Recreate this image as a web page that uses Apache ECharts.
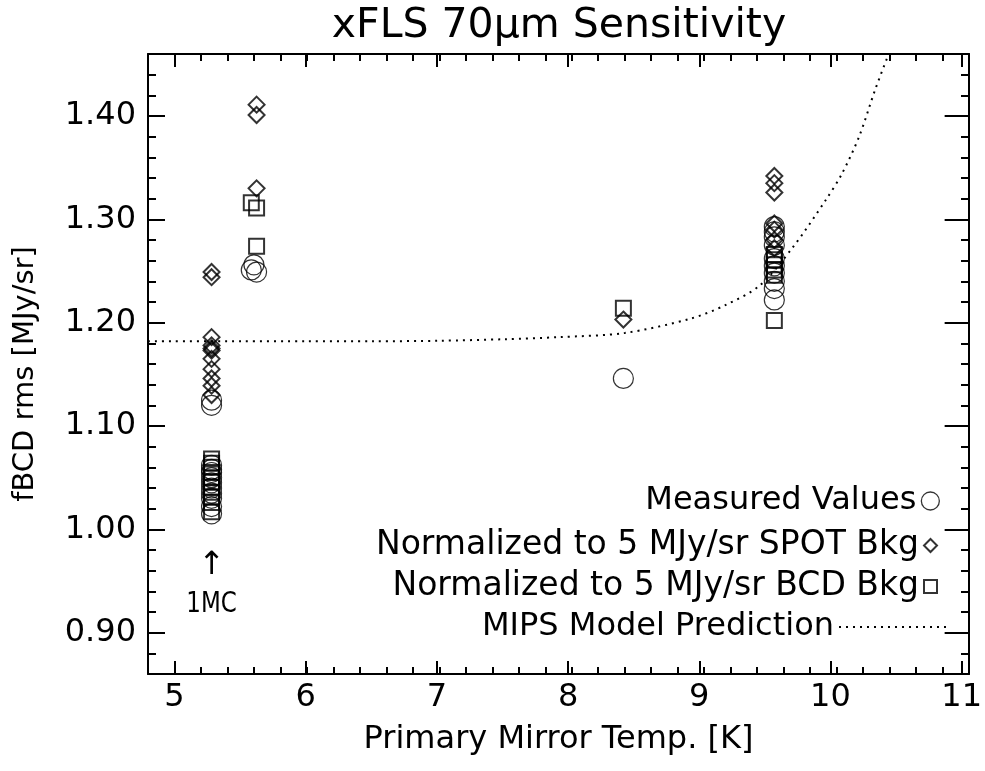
<!DOCTYPE html>
<html><head><meta charset="utf-8">
<script src="https://cdn.jsdelivr.net/npm/echarts@6/dist/echarts.min.js"></script>
<style>html,body{margin:0;padding:0;background:#fff}#c{width:985px;height:771px}</style>
</head><body><div id="c"></div>
<script>
// ---- data ----
const measTemp = [5.28,5.28,5.28,5.28,5.28,5.28,5.28,5.28,5.28,5.28,5.28,5.28,
                  5.60,5.58,5.62, 8.39,
                  9.53,9.53,9.53,9.53,9.53,9.53,9.53,9.53,9.53,9.53];
const measRms  = [1.125,1.120,1.062,1.058,1.055,1.050,1.045,1.040,1.035,1.030,1.022,1.015,
                  1.256,1.251,1.249, 1.146,
                  1.293,1.288,1.283,1.275,1.262,1.255,1.248,1.240,1.233,1.222];
const spotTemp = [5.28,5.28,5.28,5.28,5.28,5.28,5.28,5.28,5.28,5.28,5.28,
                  5.62,5.62,5.62, 8.39,
                  9.53,9.53,9.53,9.53,9.53,9.53,9.53];
const spotRms  = [1.249,1.244,1.186,1.178,1.175,1.173,1.165,1.155,1.146,1.139,1.130,
                  1.411,1.401,1.330, 1.203,
                  1.342,1.335,1.326,1.296,1.290,1.280,1.272];
const bcdTemp  = [5.28,5.28,5.28,5.28,5.28,5.28,5.28,5.28,5.28,5.28,5.28,
                  5.58,5.62,5.62, 8.39,
                  9.53,9.53,9.53,9.53,9.53,9.53];
const bcdRms   = [1.068,1.064,1.060,1.055,1.050,1.046,1.041,1.036,1.031,1.026,1.017,
                  1.316,1.311,1.274, 1.214,
                  1.266,1.261,1.256,1.251,1.246,1.202];
const modelTemp = [4.8,5.5,6.0,6.5,7.0,7.5,7.9,8.4,8.9,9.16,9.42,9.67,9.92,10.04,10.17,10.29,10.39];
const modelRms  = [1.182,1.182,1.182,1.182,1.1825,1.184,1.186,1.190,1.204,1.217,1.236,1.273,1.319,1.344,1.380,1.425,1.459];
const xTickLabels = ['5','6','7','8','9','10','11'];
const yTickLabels = ['0.90','1.00','1.10','1.20','1.30','1.40'];
const seriesNames = ['Measured Values','Normalized to 5 MJy/sr SPOT Bkg','Normalized to 5 MJy/sr BCD Bkg','MIPS Model Prediction'];

// ---- layout ----
const W = 985, H = 771;
const X0 = 4.8, X1 = 11.0, Y0 = 0.86, Y1 = 1.46;
const PL = 148, PR = 969, PT = 54, PB = 674;
const px = x => PL + (x - X0) / (X1 - X0) * (PR - PL);
const py = y => PT + (Y1 - y) / (Y1 - Y0) * (PB - PT);
const xm0 = 5, xm1 = 11, ym0 = 0.9, ym1 = 1.4;
const FONT = 'DejaVu Sans';
const zip = (a, b) => a.map((v, i) => [v, b[i]]);
const black = '#000';
const clear = 'rgba(0,0,0,0)';
const tickLine = {color: black, width: 2};
const legendText = {fontFamily: FONT, fontSize: 32, color: black};

const baseAxis = {type: 'value', splitLine: {show: false}, axisLabel: {show: false}, z: 5};

const chart = echarts.init(document.getElementById('c'));
const option = {
  animation: false,
  backgroundColor: '#fff',
  title: {text: 'xFLS 70\u03bcm Sensitivity', left: 554, textAlign: 'center', top: 1,
          textStyle: {fontFamily: FONT, fontSize: 41, fontWeight: 'normal', color: black}},
  grid: [
    {left: PL, right: W - PR, top: PT, bottom: H - PB},
    {left: px(xm0), right: W - px(xm1), top: py(ym1), bottom: H - py(ym0)}
  ],
  xAxis: [
    Object.assign({}, baseAxis, {gridIndex: 0, min: X0, max: X1, interval: 0.2, position: 'bottom',
      axisLine: {show: true, onZero: false, lineStyle: tickLine}, axisTick: {inside: true, length: 7, lineStyle: tickLine},
      name: 'Primary Mirror Temp. [K]', nameLocation: 'middle', nameGap: 50,
      nameTextStyle: {fontFamily: FONT, fontSize: 32, color: black}}),
    Object.assign({}, baseAxis, {gridIndex: 0, min: X0, max: X1, interval: 0.2, position: 'top',
      axisLine: {show: true, onZero: false, lineStyle: tickLine}, axisTick: {inside: true, length: 7, lineStyle: tickLine}}),
    Object.assign({}, baseAxis, {gridIndex: 1, min: xm0, max: xm1, interval: 1, position: 'bottom', offset: PB - py(ym0),
      axisLine: {show: false, onZero: false}, axisTick: {inside: true, length: 13, lineStyle: tickLine},
      axisLabel: {show: true, margin: 8, fontFamily: FONT, fontSize: 32, color: black,
        formatter: v => xTickLabels[Math.round(v - xm0)]}}),
    Object.assign({}, baseAxis, {gridIndex: 1, min: xm0, max: xm1, interval: 1, position: 'top', offset: py(ym1) - PT,
      axisLine: {show: false, onZero: false}, axisTick: {inside: true, length: 13, lineStyle: tickLine}})
  ],
  yAxis: [
    Object.assign({}, baseAxis, {gridIndex: 0, min: Y0, max: Y1, interval: 0.02, position: 'left',
      axisLine: {show: true, onZero: false, lineStyle: tickLine}, axisTick: {inside: true, length: 8, lineStyle: tickLine},
      name: 'fBCD rms [MJy/sr]', nameLocation: 'middle', nameRotate: 90, nameGap: 108,
      nameTextStyle: {fontFamily: FONT, fontSize: 29, color: black, padding: [0, 20, 0, 0]}}),
    Object.assign({}, baseAxis, {gridIndex: 0, min: Y0, max: Y1, interval: 0.02, position: 'right',
      axisLine: {show: true, onZero: false, lineStyle: tickLine}, axisTick: {inside: true, length: 8, lineStyle: tickLine}}),
    Object.assign({}, baseAxis, {gridIndex: 1, min: ym0, max: ym1, interval: 0.1, position: 'left', offset: px(xm0) - PL,
      axisLine: {show: false, onZero: false}, axisTick: {inside: true, length: 17, lineStyle: tickLine},
      axisLabel: {show: true, margin: 12, fontFamily: FONT, fontSize: 32, color: black,
        formatter: v => yTickLabels[Math.round((v - ym0) * 10)]}}),
    Object.assign({}, baseAxis, {gridIndex: 1, min: ym0, max: ym1, interval: 0.1, position: 'right', offset: 0,
      axisLine: {show: false, onZero: false}, axisTick: {inside: true, length: 17, lineStyle: tickLine}})
  ],
  legend: [
    {data: [{name: seriesNames[0], icon: 'circle', itemStyle: {color: clear, borderColor: black, borderWidth: 1.3}}],
     right: 40, top: 480, align: 'right', itemWidth: 18, itemHeight: 18, selectedMode: false, textStyle: legendText},
    {data: [{name: seriesNames[1], icon: 'diamond', itemStyle: {color: clear, borderColor: black, borderWidth: 2}}],
     right: 42, top: 524, align: 'right', itemWidth: 13, itemHeight: 13, selectedMode: false,
     textStyle: Object.assign({}, legendText, {fontSize: 33})},
    {data: [{name: seriesNames[2], icon: 'rect', itemStyle: {color: clear, borderColor: black, borderWidth: 2}}],
     right: 42, top: 565, align: 'right', itemWidth: 13, itemHeight: 13, selectedMode: false,
     textStyle: Object.assign({}, legendText, {fontSize: 33})},
    {data: [{name: seriesNames[3], itemStyle: {color: clear, borderColor: clear, borderWidth: 0, opacity: 0}}],
     right: 32, top: 606, align: 'right', itemWidth: 108, itemHeight: 14, selectedMode: false, textStyle: legendText}
  ],
  series: [
    {name: seriesNames[0], type: 'scatter', xAxisIndex: 0, yAxisIndex: 0, symbol: 'circle', symbolSize: 20,
     itemStyle: {color: clear, borderColor: black, borderWidth: 1.2}, data: zip(measTemp, measRms), z: 3},
    {name: seriesNames[1], type: 'scatter', xAxisIndex: 0, yAxisIndex: 0, symbol: 'diamond', symbolSize: 16,
     itemStyle: {color: clear, borderColor: black, borderWidth: 2}, data: zip(spotTemp, spotRms), z: 3},
    {name: seriesNames[2], type: 'scatter', xAxisIndex: 0, yAxisIndex: 0, symbol: 'rect', symbolSize: 15,
     itemStyle: {color: clear, borderColor: black, borderWidth: 2}, data: zip(bcdTemp, bcdRms), z: 3},
    {name: seriesNames[3], type: 'line', xAxisIndex: 0, yAxisIndex: 0, symbol: 'none', smooth: 0.3, clip: true,
     lineStyle: {color: black, width: 2, type: [2, 5]}, itemStyle: {color: black}, data: zip(modelTemp, modelRms), z: 2}
  ]
};
chart.setOption(option);
const a = chart.convertToPixel({xAxisIndex: 0, yAxisIndex: 0}, [5.28, 0.965]);
const b = chart.convertToPixel({xAxisIndex: 0, yAxisIndex: 0}, [5.28, 0.927]);
chart.setOption({graphic: [
  {type: 'text', x: a[0], y: a[1], style: {text: '\u2191', fontFamily: FONT, fontSize: 32, fill: black, align: 'center', verticalAlign: 'middle'}},
  {type: 'text', x: b[0], y: b[1], scaleX: 0.82, style: {text: '1MC', fontFamily: FONT, fontSize: 28, fill: black, align: 'center', verticalAlign: 'middle'}}
]});
</script>
</body></html>
